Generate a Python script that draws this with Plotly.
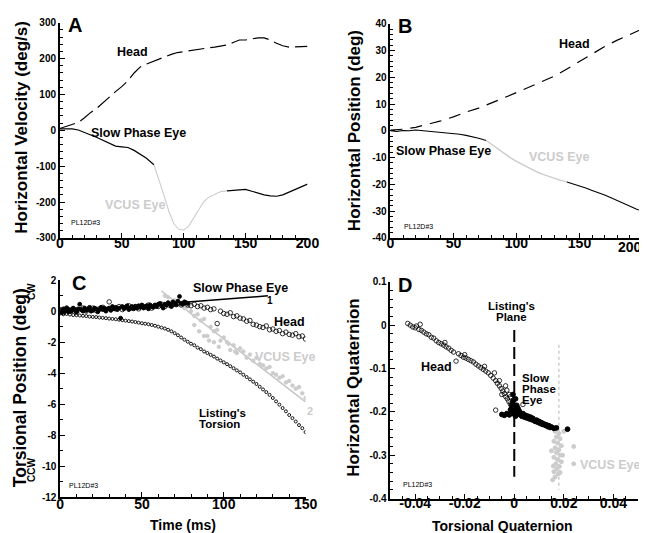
import plotly.graph_objects as go

# ---------------- DATA ----------------
# Panel A: horizontal velocity (deg/s) vs time (ms)
a_head_t = [0, 5, 10, 15, 20, 25, 30, 35, 40, 45, 50, 55, 60, 65, 70, 75, 80, 85, 90, 95, 100,
            105, 110, 115, 120, 125, 130, 135, 140, 145, 150, 155, 160, 165, 170, 175, 180, 185, 190, 195, 200]
a_head_v = [5, 10, 16, 22, 35, 50, 62, 78, 93, 108, 122, 138, 160, 177, 185, 192, 198, 205, 212, 217, 220,
            221, 224, 228, 230, 232, 234, 238, 245, 252, 252, 255, 258, 258, 252, 243, 236, 232, 233, 234, 234]
a_eye1_t = [0, 5, 10, 15, 20, 25, 30, 35, 40, 45, 50, 55, 60, 65, 70, 76]
a_eye1_v = [4, 5, 4, 1, -5, -13, -20, -28, -38, -44, -46, -48, -56, -68, -78, -96]
a_vcus_t = [76, 80, 84, 88, 92, 96, 100, 104, 108, 112, 116, 120, 125, 130, 135]
a_vcus_v = [-96, -135, -180, -225, -260, -276, -278, -268, -245, -220, -200, -187, -178, -171, -169]
a_eye2_t = [135, 140, 145, 150, 155, 160, 165, 170, 175, 180, 185, 190, 195, 200]
a_eye2_v = [-169, -168, -166, -165, -170, -176, -180, -183, -184, -180, -172, -165, -158, -150]

# Panel B: horizontal position (deg) vs time (ms)
b_head_t = [0, 10, 20, 30, 40, 50, 60, 70, 80, 90, 100, 110, 120, 130, 140, 150, 160, 170, 180, 190, 200]
b_head_v = [0.3, 0.6, 1.3, 2.4, 3.7, 5.2, 7.0, 8.5, 10.3, 12.3, 14.3, 16.4, 18.3, 20.4, 23.1, 26.0, 28.8,
            31.5, 33.9, 36.0, 38.1]
b_eye1_t = [0, 5, 10, 15, 20, 25, 30, 35, 40, 45, 50, 55, 60, 65, 70, 76]
b_eye1_v = [0.0, -0.2, 0.1, 0.0, 0.3, 0.1, -0.2, -0.3, -0.5, -0.7, -0.9, -1.3, -1.7, -2.2, -2.8, -3.6]
b_vcus_t = [76, 80, 85, 90, 95, 100, 105, 110, 115, 120, 125, 130, 135, 140]
b_vcus_v = [-3.6, -5.0, -6.8, -8.5, -10.0, -11.4, -12.7, -14.0, -15.1, -16.1, -17.0, -17.8, -18.5, -19.1]
b_eye2_t = [140, 145, 150, 155, 160, 165, 170, 175, 180, 185, 190, 195, 200]
b_eye2_v = [-19.1, -19.8, -20.6, -21.4, -22.3, -23.1, -24.0, -25.0, -26.1, -27.1, -28.2, -29.2, -30.1]

# Panel C: torsional position (deg) vs time (ms)
c_eye_t = list(range(0, 79))
c_eye_v = [0.05, -0.1, 0.15, 0.0, 0.2, -0.05, 0.1, 0.0, 0.2, 0.1, -0.05, 0.15, 0.45, 0.1, 0.0, 0.2, 0.05, 0.15, 0.25, 0.0,
           0.05, 0.2, 0.15, -0.05, 0.1, 0.25, 0.1, 0.2, 0.0, 0.15, 0.2, 0.05, 0.3, 0.15, 0.25, 0.1, 0.2, -0.45, 0.3, 0.15,
           0.25, 0.35, 0.1, 0.2, 0.3, 0.15, 0.3, 0.2, 0.35, 0.25, 0.4, 0.2, 0.3, 0.35, 0.15, 0.4, 0.3, 0.25, 0.4, 0.3,
           0.45, 0.5, 0.35, 0.2, 0.45, 0.4, 0.55, 0.45, 0.3, 0.6, 0.5, 0.4, 0.65, 0.95, 0.5, 0.45, 0.6, 0.55, 0.5]
c_head_t = list(range(0, 151, 2))
c_head_v = [0.1, -0.1, 0.2, 0.0, 0.15, -0.05, 0.1, 0.2, 0.0, 0.1, 0.2, 0.05, 0.15, 0.25, 0.1, 0.6, 0.2, 0.15, 0.3, 0.1,
            0.25, 0.35, 0.2, 0.3, 0.15, 0.35, 0.25, 0.4, 0.2, 0.35, 0.3, 0.45, 0.3, 0.4, 0.35, 0.45, 0.5, 0.4, 0.55, 0.4,
            0.35, 0.45, 0.3, 0.35, 0.2, 0.25, 0.1, 0.15, -0.8, 0.0, -0.15, -0.2, -0.1, -0.35, -0.3, -0.45, -0.5, -0.65,
            -0.6, -0.85, -0.9, -1.0, -1.05, -0.95, -1.2, -1.15, -1.3, -1.25, -1.45, -1.35, -1.5, -1.55, -1.45, -1.65,
            -1.6, -1.8]
c_vcus_t = list(range(64, 151, 2)) + [82, 85, 88, 91, 94, 97, 103, 107]
c_vcus_v = [1.0, 0.9, 0.6, 0.7, 0.4, 0.5, 0.2, 0.3, 0.0, -0.3, -0.2, -0.6, -0.5, -1.6, -1.0, -1.3, -1.2, -1.9, -1.7,
            -2.0, -2.5, -2.2, -2.7, -2.4, -2.6, -3.0, -2.8, -3.2, -3.0, -3.4, -3.5, -3.7, -3.6, -4.0, -4.1, -4.3, -4.2,
            -4.6, -4.5, -4.8, -5.0, -4.9, -5.3, -5.6] + [-0.9, -1.3, -1.6, -1.9, -2.0, -2.3, -2.1, -2.6]
c_list_t = list(range(0, 151, 2))
c_list_v = [-0.15, -0.2, -0.18, -0.22, -0.25, -0.26, -0.28, -0.3, -0.32, -0.35, -0.37, -0.38, -0.41, -0.43, -0.45,
            -0.48, -0.5, -0.52, -0.55, -0.58, -0.61, -0.64, -0.67, -0.7, -0.74, -0.78, -0.81, -0.84, -0.89, -0.94,
            -1.0, -1.06, -1.12, -1.2, -1.3, -1.42, -1.55, -1.7, -1.84, -1.97, -2.1, -2.2, -2.35, -2.45, -2.6, -2.7,
            -2.82, -2.93, -3.06, -3.18, -3.3, -3.42, -3.55, -3.68, -3.82, -3.95, -4.1, -4.25, -4.4, -4.55, -4.7,
            -4.88, -5.05, -5.22, -5.4, -5.6, -5.82, -6.03, -6.25, -6.46, -6.7, -6.9, -7.12, -7.35, -7.55, -7.8]
c_fit1_t = [74, 127]
c_fit1_v = [0.56, 0.99]
c_fit2_t = [62, 150]
c_fit2_v = [1.3, -5.85]

# Panel D: horizontal vs torsional quaternion
d_head_x = [-0.0430, -0.0420, -0.0410, -0.0400, -0.0395, -0.0385, -0.0375, -0.0365, -0.0355, -0.0345, -0.0335,
            -0.0325, -0.0315, -0.0305, -0.0295, -0.0285, -0.0275, -0.0265, -0.0255, -0.0245, -0.0235, -0.0225,
            -0.0215, -0.0205, -0.0195, -0.0185, -0.0175, -0.0165, -0.0155, -0.0145, -0.0135, -0.0125, -0.0115,
            -0.0105, -0.0095, -0.0085, -0.0075, -0.0068, -0.0060, -0.0053, -0.0046, -0.0040, -0.0034, -0.0028,
            -0.0022, -0.0016, -0.0010, -0.0005, 0.0000, -0.0075, 0.0035, -0.0050, -0.0030, -0.0060, -0.0015,
            -0.0380, -0.0280, -0.0200, -0.0120, -0.0080, -0.0035, -0.0020]
d_head_y = [0.004, 0.000, -0.004, -0.006, -0.002, -0.010, -0.012, -0.016, -0.020, -0.022, -0.028, -0.030, -0.036,
            -0.040, -0.043, -0.046, -0.050, -0.053, -0.058, -0.062, -0.083, -0.066, -0.070, -0.074, -0.076, -0.079,
            -0.082, -0.085, -0.090, -0.094, -0.098, -0.102, -0.106, -0.110, -0.116, -0.122, -0.128, -0.134, -0.140,
            -0.146, -0.152, -0.158, -0.165, -0.170, -0.176, -0.182, -0.188, -0.192, -0.196, -0.196, -0.183, -0.160,
            -0.150, -0.128, -0.165, 0.002, -0.040, -0.068, -0.095, -0.110, -0.140, -0.160]
d_eye_x = [-0.0050, -0.0040, -0.0030, -0.0020, -0.0010, 0.0000, -0.0010, -0.0005, 0.0000, 0.0005, 0.0010, 0.0010,
           0.0015, 0.0020, 0.0005, 0.0025, 0.0030, 0.0035, 0.0040, 0.0045, 0.0050, 0.0055, 0.0060, 0.0065, 0.0070,
           0.0075, 0.0080, 0.0085, 0.0090, 0.0095, 0.0100, 0.0105, 0.0110, 0.0115, 0.0120, 0.0125, 0.0130, 0.0135,
           0.0140, 0.0145, 0.0150, 0.0160, 0.0170, 0.0215, -0.0005, 0.0005, -0.0015, 0.0015]
d_eye_y = [-0.206, -0.208, -0.204, -0.207, -0.203, -0.205, -0.185, -0.175, -0.190, -0.195, -0.185, -0.200, -0.205,
           -0.198, -0.210, -0.206, -0.210, -0.204, -0.212, -0.208, -0.214, -0.210, -0.216, -0.212, -0.218, -0.215,
           -0.220, -0.222, -0.219, -0.224, -0.222, -0.227, -0.225, -0.229, -0.228, -0.231, -0.230, -0.234, -0.232,
           -0.236, -0.235, -0.238, -0.237, -0.240, -0.160, -0.170, -0.195, -0.192]
d_vcus_x = [0.0165, 0.0180, 0.0170, 0.0185, 0.0160, 0.0175, 0.0190, 0.0165, 0.0180, 0.0170, 0.0185, 0.0160, 0.0175,
            0.0190, 0.0168, 0.0182, 0.0172, 0.0160, 0.0178, 0.0165, 0.0155, 0.0185, 0.0240, 0.0240, 0.0200, 0.0150,
            0.0195, 0.0158]
d_vcus_y = [-0.245, -0.250, -0.258, -0.262, -0.268, -0.272, -0.278, -0.283, -0.288, -0.294, -0.300, -0.305, -0.310,
            -0.315, -0.320, -0.326, -0.332, -0.338, -0.343, -0.350, -0.357, -0.340, -0.280, -0.320, -0.245, -0.290,
            -0.300, -0.325]
d_listing_x = [0.0, 0.0]
d_listing_y = [-0.011, -0.35]
d_vcusline_x = [0.018, 0.018]
d_vcusline_y = [-0.045, -0.38]

# tick labels
a_yticks = [-300, -200, -100, 0, 100, 200, 300]
a_ytext = ["-300", "-200", "-100", "0", "100", "200", "300"]
ab_xticks = [0, 50, 100, 150, 200]
ab_xtext = ["0", "50", "100", "150", "200"]
b_yticks = [-40, -30, -20, -10, 0, 10, 20, 30, 40]
b_ytext = ["-40", "-30", "-20", "-10", "0", "10", "20", "30", "40"]
c_xticks = [0, 50, 100, 150]
c_xtext = ["0", "50", "100", "150"]
c_yticks = [-12, -10, -8, -6, -4, -2, 0, 2]
c_ytext = ["-12", "-10", "-8", "-6", "-4", "-2", "0", "2"]
d_xticks = [-0.04, -0.02, 0, 0.02, 0.04]
d_xtext = ["-0.04", "-0.02", "0", "0.02", "0.04"]
d_yticks = [-0.4, -0.3, -0.2, -0.1, 0, 0.1]
d_ytext = ["-0.4", "-0.3", "-0.2", "-0.1", "0", "0.1"]

# ---------------- FIGURE ----------------
W, H = 647, 533
FONT = "Liberation Sans, Arial, sans-serif"
GRAY = "#cccccc"


def px(x):
    return x / W


def py(y):
    return 1 - y / H


fig = go.Figure()


def line(x, y, ax, color="black", width=1.2, dash="solid"):
    fig.add_trace(go.Scatter(x=x, y=y, mode="lines", xaxis="x" + ax, yaxis="y" + ax,
                             line=dict(color=color, width=width, dash=dash), hoverinfo="skip"))


def pts(x, y, ax, symbol, color, size, lw=1.0):
    fig.add_trace(go.Scatter(x=x, y=y, mode="markers", xaxis="x" + ax, yaxis="y" + ax,
                             marker=dict(symbol=symbol, color=color, size=size, line=dict(width=lw, color=color)),
                             hoverinfo="skip"))


# Panel A
line(a_head_t, a_head_v, "", dash="16px,6px")
line(a_eye1_t, a_eye1_v, "")
line(a_vcus_t, a_vcus_v, "", color=GRAY, width=1.1)
line(a_eye2_t, a_eye2_v, "")
# Panel B
line(b_head_t, b_head_v, "2", dash="12px,8px")
line(b_eye1_t, b_eye1_v, "2", width=1.1)
line(b_vcus_t, b_vcus_v, "2", color=GRAY, width=1.4)
line(b_eye2_t, b_eye2_v, "2", width=1.1)
# Panel C
line(c_fit2_t, c_fit2_v, "3", color="#c4c4c4", width=1.5)
pts(c_vcus_t, c_vcus_v, "3", "circle", GRAY, 3.5)
pts(c_list_t, c_list_v, "3", "circle-open", "black", 3, 0.9)
pts(c_head_t, c_head_v, "3", "circle-open", "black", 4.5, 0.8)
pts(c_eye_t, c_eye_v, "3", "circle", "black", 3.8)
line(c_fit1_t, c_fit1_v, "3", width=1.5)
# Panel D
line(d_vcusline_x, d_vcusline_y, "4", color=GRAY, width=1.5, dash="dot")
line(d_listing_x, d_listing_y, "4", width=2, dash="12px,5px")
pts(d_vcus_x, d_vcus_y, "4", "circle", GRAY, 4)
pts(d_head_x, d_head_y, "4", "circle-open", "black", 4.5, 0.8)
pts(d_eye_x, d_eye_y, "4", "circle", "black", 4.8)


def axis(domain, rng, anchor, tickvals, ticktext, size, minor_dtick, standoff=0):
    return dict(domain=domain, range=rng, anchor=anchor, showline=True, linecolor="black", linewidth=1.5,
                ticks="inside", ticklen=5, tickwidth=1.2, tickcolor="black",
                tickmode="array", tickvals=tickvals, ticktext=ticktext, ticklabelstandoff=standoff,
                tickfont=dict(family=FONT, size=size, color="black", weight="bold"),
                minor=dict(ticks="inside", ticklen=3, tickwidth=1, tickcolor="black",
                           tickmode="linear", tick0=rng[0], dtick=minor_dtick),
                showgrid=False, zeroline=False, fixedrange=True)


fig.update_layout(
    width=W, height=H, margin=dict(l=0, r=0, t=0, b=0),
    paper_bgcolor="white", plot_bgcolor="white", showlegend=False,
    font=dict(family=FONT, color="black"),
    xaxis=axis([px(49), px(303)], [0, 200], "y", ab_xticks, ab_xtext, 14, 10, -8),
    yaxis=axis([py(229), py(9)], [-300, 300], "x", a_yticks, a_ytext, 10, 20),
    xaxis2=axis([px(388), px(646.5)], [0, 200], "y2", ab_xticks[:-1], ab_xtext[:-1], 14, 10, -8),
    yaxis2=axis([py(229), py(10)], [-40, 40], "x2", b_yticks, b_ytext, 10, 2),
    xaxis3=axis([px(49.3), px(301)], [0, 150], "y3", c_xticks, c_xtext, 14, 10, -7),
    yaxis3=axis([py(494.3), py(272.3)], [-12, 2], "x3", c_yticks, c_ytext, 10, 1),
    xaxis4=axis([px(388), px(642)], [-0.05, 0.05], "y4", d_xticks, d_xtext, 14, 0.005, -9),
    yaxis4=axis([py(495.7), py(274)], [-0.4, 0.1], "x4", d_yticks, d_ytext, 10, 0.02),
)

anns = []


def txt(text, x, y, size=12.5, color="black", bold=True, angle=0, xanchor="center"):
    anns.append(dict(text=text, x=px(x), y=py(y), xref="paper", yref="paper", showarrow=False,
                     xanchor=xanchor, yanchor="middle", textangle=angle,
                     font=dict(family=FONT, size=size, color=color, weight="bold" if bold else "normal")))


# axis titles
txt("Horizontal Velocity (deg/s)", 9.5, 116, 17, angle=-90)
txt("Horizontal Position (deg)", 351.5, 119, 17, angle=-90)
txt("Torsional Position (deg)", 9, 382, 17.5, angle=-90)
txt("CW", 20, 284, 10, angle=-90)
txt("CCW", 20, 467, 10, angle=-90)
txt("Horizontal Quaternion", 350, 382, 17, angle=-90)
txt("Time (ms)", 175, 523, 14)
txt("Torsional Quaternion", 503.3, 524, 14)
txt("200", 634, 238.5, 14)
# panel letters
txt("A", 64.3, 11, 20)
txt("B", 403, 12.5, 20)
txt("C", 68.3, 275, 20)
txt("D", 403, 277, 20)
# Panel A labels
txt("Head", 123.7, 39)
txt("Slow Phase Eye", 130, 121.7)
txt("VCUS Eye", 125.8, 195, color=GRAY)
txt("PL12D#3", 75.5, 213, 7, bold=False)
# Panel B labels
txt("Head", 577.2, 30.8)
txt("Slow Phase Eye", 442.8, 140)
txt("VCUS Eye", 560.8, 146.7, color=GRAY)
txt("PL12D#3", 416.3, 217.5, 7, bold=False)
# Panel C labels
txt("Slow Phase Eye", 234.2, 280)
txt("1", 265, 293.3, 10)
txt("Head", 285, 314.7)
txt("VCUS Eye", 280, 351, color=GRAY)
txt("2", 305.5, 406, 11, color=GRAY)
txt("Listing's", 190, 408, 11.5, xanchor="left")
txt("Torsion", 190, 419, 11.5, xanchor="left")
txt("PL12D#3", 73.5, 482, 7, bold=False)
# Panel D labels
txt("Listing's", 512.5, 298.5, 11.5)
txt("Plane", 512.5, 309.5, 11.5)
txt("Head", 435, 361)
txt("Slow", 521, 372, 11.5, xanchor="left")
txt("Phase", 521, 383.5, 11.5, xanchor="left")
txt("Eye", 521, 395, 11.5, xanchor="left")
txt("VCUS Eye", 613.3, 461, color=GRAY)
txt("PL12D#3", 416, 481, 7, bold=False)

fig.update_layout(annotations=anns)
fig.write_html("out.html")
